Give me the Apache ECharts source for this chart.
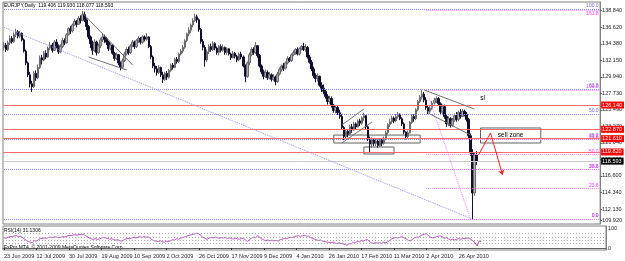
<!DOCTYPE html>
<html>
<head>
<meta charset="utf-8">
<script src="https://cdn.jsdelivr.net/npm/echarts@6/dist/echarts.min.js"></script>
<style>
html,body{margin:0;padding:0;background:#fff}
#chart_main{width:625px;height:261px}
</style>
</head>
<body>
<div id="chart_main"></div>
<script>
// EURJPY daily bars (open = previous close)
var firstOpen = 133.9;
var closes = [
    134.2,133.6,134.5,135.1,134.7,135.6,136.0,135.4,135.8,134.9,
    133.4,131.8,130.2,129.0,128.6,130.4,129.8,131.2,132.5,132.2,
    133.1,132.6,133.8,134.2,133.5,134.6,134.1,133.3,134.0,134.8,
    134.5,135.6,136.4,136.1,136.9,137.4,137.0,137.8,137.5,138.3,
    137.6,136.7,135.3,134.4,133.5,134.6,133.2,134.1,134.9,135.3,
    135.0,134.6,133.7,134.2,133.1,132.4,132.9,131.8,131.2,132.1,
    133.0,133.6,133.2,134.1,134.6,134.0,134.8,135.1,134.6,135.3,
    135.0,135.3,134.0,132.6,131.4,131.0,130.5,131.2,130.2,129.6,
    130.4,129.9,130.8,131.5,131.2,132.3,132.0,133.0,133.4,133.9,
    134.8,135.7,136.2,136.9,137.5,138.0,137.6,136.3,134.7,133.9,
    132.2,133.3,134.0,133.6,134.4,133.8,133.2,134.0,133.5,133.9,
    133.2,133.7,133.0,132.5,133.1,132.7,132.2,133.0,132.6,131.4,
    130.0,131.8,132.9,133.6,133.2,134.1,132.8,131.4,130.6,130.0,
    130.5,129.8,130.2,129.6,129.9,129.3,130.3,130.9,131.4,131.1,
    131.8,132.4,132.1,132.9,133.2,133.6,133.0,133.7,134.0,133.6,
    133.9,132.6,131.9,131.0,130.1,129.7,130.0,128.8,128.4,128.0,
    127.3,126.6,127.0,126.1,125.4,125.8,125.1,124.6,123.1,121.9,
    122.6,122.2,123.2,122.8,123.6,123.2,124.0,123.7,124.4,124.7,
    123.2,121.6,120.9,121.5,121.0,121.3,120.7,121.4,121.0,121.6,
    122.4,123.5,123.9,124.4,124.0,124.6,124.9,124.3,123.6,122.5,
    121.9,122.4,123.8,124.6,124.3,125.5,126.6,127.2,127.6,126.8,
    125.8,125.3,125.7,126.4,126.8,127.0,126.3,125.2,125.9,124.6,
    123.6,124.3,123.4,124.1,124.7,124.2,125.1,124.6,125.3,124.9,
    124.2,122.0,119.7,114.3,119.406,118.593
];
var highs = [
    134.6,134.5,134.8,135.5,135.4,135.9,136.4,136.2,136.1,135.9,
    135.1,133.6,132.0,130.6,129.4,130.7,130.8,131.6,132.8,132.9,
    133.4,133.5,134.0,134.6,134.5,134.9,135.0,134.3,134.3,135.2,
    135.1,135.8,136.6,136.8,137.1,137.7,137.6,138.1,138.2,138.8,
    138.7,137.8,136.9,135.5,134.8,135.0,134.8,134.4,135.2,135.8,
    135.6,135.3,134.8,134.5,134.3,133.3,133.2,133.0,132.0,132.4,
    133.3,133.9,134.0,134.3,134.9,134.8,135.0,135.4,135.3,135.5,
    135.5,135.8,135.4,134.2,132.8,131.8,131.4,131.5,131.3,130.6,
    130.6,130.7,131.0,131.7,131.8,132.5,132.6,133.2,133.7,134.2,
    135.0,135.9,136.6,137.1,137.8,138.4,138.3,137.8,136.5,135.0,
    134.2,133.6,134.3,134.4,134.7,134.6,134.0,134.2,134.3,134.3,
    134.0,133.9,133.8,133.2,133.4,133.3,132.9,133.2,133.3,132.8,
    131.6,132.0,133.2,133.9,133.9,134.6,134.2,133.0,131.6,130.9,
    130.9,130.8,130.6,130.4,130.3,130.1,130.6,131.2,131.6,131.8,
    132.0,132.7,132.6,133.1,133.5,133.8,133.9,133.9,134.2,134.5,
    134.3,134.1,132.9,132.2,131.3,130.4,130.4,130.1,129.2,128.9,
    128.2,127.6,127.4,127.3,126.3,126.1,126.0,125.5,124.9,123.3,
    122.9,122.9,123.5,123.6,123.9,123.8,124.2,124.3,124.6,125.1,
    124.8,123.4,121.9,121.8,121.7,121.6,121.5,121.6,121.6,121.9,
    122.7,123.7,124.3,124.7,124.6,124.9,125.2,125.0,124.5,123.8,
    122.6,122.7,124.0,124.9,124.9,125.7,126.8,127.5,128.2,127.9,
    127.2,126.0,126.0,126.7,127.1,127.3,127.2,126.5,126.2,126.2,
    124.9,124.6,124.5,124.4,125.0,125.2,125.4,125.6,125.6,125.5,
    125.2,124.4,122.3,120.2,119.7,119.930
];
var lows = [
    133.5,133.3,133.4,134.2,134.4,134.5,135.3,135.1,135.1,134.7,
    133.2,131.5,129.9,128.5,127.9,128.4,129.4,129.6,131.0,131.6,
    132.0,132.3,132.5,133.5,133.2,133.4,133.8,133.0,133.1,133.8,
    134.2,134.4,135.5,135.7,135.9,136.8,136.6,136.9,137.1,137.4,
    137.3,136.2,135.0,133.8,132.9,133.3,132.8,133.0,133.8,134.6,
    134.5,134.2,133.4,133.5,132.9,132.1,132.2,131.5,130.8,131.0,
    131.9,132.8,132.9,133.0,133.9,133.7,133.8,134.5,134.3,134.4,
    134.7,134.8,133.8,132.3,131.1,130.5,130.1,130.3,129.9,129.1,
    129.4,129.5,129.7,130.6,130.9,131.1,131.7,131.8,132.8,133.1,
    133.7,134.6,135.4,135.8,136.6,137.3,137.2,136.0,134.4,133.5,
    131.3,131.9,133.0,133.3,133.4,133.5,132.9,132.8,133.2,133.3,
    132.9,132.9,132.8,132.2,132.4,132.4,131.9,132.0,132.3,131.2,
    129.2,129.8,131.5,132.7,132.9,133.0,132.5,131.2,130.3,129.6,
    129.8,129.5,129.6,129.3,129.4,128.8,129.1,130.1,130.6,130.7,
    130.9,131.6,131.9,131.9,132.7,132.9,132.8,132.8,133.5,133.4,
    133.3,132.4,131.7,130.7,129.8,129.2,129.3,128.6,127.9,127.6,
    127.0,126.2,126.3,125.8,125.1,125.0,124.8,124.3,122.8,121.4,
    121.6,121.8,122.0,122.4,122.7,122.9,123.1,123.3,123.5,124.0,
    122.9,121.3,119.7,120.4,120.6,120.6,120.4,120.5,120.6,120.8,
    121.4,122.2,123.2,123.6,123.7,123.8,124.3,124.1,123.3,122.2,
    121.5,121.7,122.3,123.6,123.9,124.1,125.3,126.4,126.9,126.5,
    125.5,124.9,125.0,125.5,126.2,126.4,126.0,124.9,124.9,124.3,
    123.2,123.3,123.1,123.2,123.9,123.9,124.0,124.3,124.5,124.6,
    123.9,121.6,119.3,110.8,113.9,118.077
];
// RSI(14) line
var rsi = [
    52,48,54,58,56,60,62,57,59,53,
    45,38,32,28,26,36,34,42,48,47,
    50,48,53,55,52,56,54,51,54,57,
    55,60,63,62,65,67,64,68,66,70,
    62,57,50,46,42,48,42,46,50,52,
    50,48,44,47,42,39,42,37,35,40,
    45,48,46,51,53,50,54,56,53,57,
    54,56,48,41,36,34,32,36,31,29,
    34,32,37,41,40,46,44,50,52,55,
    59,63,65,68,71,74,70,62,53,49,
    43,49,53,51,55,52,48,52,50,52,
    48,51,47,45,49,46,44,49,47,40,
    33,43,50,55,52,62,53,45,40,37,
    40,37,39,36,38,35,41,44,48,46,
    50,54,52,57,59,62,57,61,63,59,
    60,52,48,44,40,38,40,34,32,30,
    28,26,29,25,22,26,23,21,17,14,
    22,20,29,27,33,31,37,35,40,42,
    33,25,22,27,24,27,23,29,26,31,
    38,46,49,53,50,54,56,51,46,39,
    36,40,50,55,53,60,66,69,71,64,
    54,51,53,57,59,60,55,48,52,45,
    40,44,40,44,47,44,49,46,50,48,
    43,34,26,10,35,31.1306
];
var rsiLevels = [75, 55, 40, 25];

var dateLabels = ['23 Jun 2009','12 Jul 2009','30 Jul 2009','19 Aug 2009','10 Sep 2009','2 Oct 2009',
    '26 Oct 2009','17 Nov 2009','9 Dec 2009','4 Jan 2010','26 Jan 2010','17 Feb 2010',
    '11 Mar 2010','2 Apr 2010','26 Apr 2010'];
var dateStep = 16;

var yTickLabels = ['138.840','136.620','134.380','132.150','129.940','127.730','125.490',
    '123.270','121.040','118.820','116.600','114.340','112.130','109.920'];

// horizontal levels
var redLevels = [126.14, 122.87, 121.61, 119.82];
var bidPrice = 118.593;
var blueFibPrices = [139.06, 128.29, 124.93, 121.57, 117.46, 110.80];
var blueFibLabels = ['100.0','61.8','50.0','38.2','23.6','0.0'];
var pinkFibPrices = [138.88, 128.16, 121.53, 119.48, 117.44, 114.89, 110.80];
var pinkFibLabels = ['161.8','100.0','61.8','50.0','38.2','23.6','0.0'];
var pinkFibStart = 210;

// drawn objects: [barIndex, price] pairs
var blueTrend = [[0, 136.6], [233, 110.8]];
var grayTrends = [
    [[38.9, 138.52], [63.5, 131.52]],
    [[42.4, 132.60], [60.6, 130.85]],
    [[168, 123.45], [179.3, 125.60]],
    [[168, 121.03], [182.8, 123.85]],
    [[208.9, 128.16], [233.5, 125.60]],
    [[211.3, 125.06], [232, 122.10]]
];
var pinkDiagonal = [[209.9, 128.16], [231.5, 110.80]];
var boxes = [
    [[164, 122.10], [207.4, 121.03]],
    [[178.8, 120.49], [193.6, 119.55]]
];
var sellZone = [[237, 123.05], [266.5, 121.03]];
var arrowPath = [[236, 119.41], [241.9, 122.37], [248.3, 116.72]];
var slMark = [238.4, 127.08];

var FONT = 'Liberation Sans';
var FS = 5.5;
var FS_TXT = 5;
var SLOTS = 297;
var yMin = 110.13, yMax = 140.0;
var BLUE = '#8c8cec', BLUE_TXT = '#6a6ad8';
var PINK = '#ff80ff', PINK_TXT = '#ff33ff';

var myChart = echarts.init(document.getElementById('chart_main'), null, {renderer: 'canvas'});

var categories = [];
for (var i = 0; i < SLOTS; i++) categories.push(String(i));

var candles = closes.map(function (c, i) {
    var o = i === 0 ? firstOpen : closes[i - 1];
    return [o, c, lows[i], highs[i]];
});

var yTickAt = yTickLabels.map(function (s) {
    return Math.max(parseFloat(s), yMin + 0.5);   // MT4 keeps the last label inside the window
});

function isDateTick(idx) {
    return idx % dateStep === 0 && idx / dateStep < dateLabels.length;
}

var lines = [];
blueFibPrices.forEach(function (p, k) {
    lines.push([
        {coord: [0, p],
         lineStyle: {color: BLUE, type: 'dotted', width: 1},
         label: {show: true, position: 'insideEndTop', distance: 0.5, formatter: blueFibLabels[k],
             color: BLUE_TXT, fontSize: FS_TXT, fontFamily: FONT}},
        {coord: [SLOTS - 1, p]}
    ]);
});
pinkFibPrices.forEach(function (p, k) {
    lines.push([
        {coord: [pinkFibStart, p],
         lineStyle: {color: PINK, type: 'dotted', width: 1},
         label: {show: true, position: k === 0 ? 'insideEndBottom' : 'insideEndTop', distance: 0.5,
             formatter: pinkFibLabels[k], color: PINK_TXT, fontSize: FS_TXT, fontFamily: FONT}},
        {coord: [SLOTS - 1, p]}
    ]);
});
redLevels.forEach(function (p) {
    lines.push({
        yAxis: p,
        lineStyle: {color: '#ff6a6a', type: 'solid', width: 1},
        label: {show: true, position: 'end', distance: 1, formatter: p.toFixed(3),
            color: '#fff', backgroundColor: '#ff0000', padding: [1, 2, 0, 1],
            fontSize: FS, fontFamily: FONT}
    });
});
lines.push({
    yAxis: bidPrice,
    lineStyle: {color: '#c8c8c8', type: 'solid', width: 1},
    label: {show: true, position: 'end', distance: 1, formatter: bidPrice.toFixed(3),
        color: '#fff', backgroundColor: '#000', padding: [1, 2, 0, 1],
        fontSize: FS, fontFamily: FONT}
});
lines.push([
    {coord: blueTrend[0], lineStyle: {color: BLUE, type: 'dotted', width: 1}, label: {show: false}},
    {coord: blueTrend[1]}
]);
lines.push([
    {coord: pinkDiagonal[0], lineStyle: {color: PINK, type: 'dotted', width: 1}, label: {show: false}},
    {coord: pinkDiagonal[1]}
]);
grayTrends.forEach(function (t) {
    lines.push([
        {coord: t[0], lineStyle: {color: '#707070', type: 'solid', width: 1}, label: {show: false}},
        {coord: t[1]}
    ]);
});
for (var k = 0; k < arrowPath.length - 1; k++) {
    lines.push([
        {coord: arrowPath[k], lineStyle: {color: '#ff2020', type: 'solid', width: 1}, label: {show: false},
         symbol: 'none'},
        {coord: arrowPath[k + 1], symbol: k === arrowPath.length - 2 ? 'arrow' : 'none', symbolSize: 5}
    ]);
}

var areas = boxes.map(function (b) {
    return [
        {coord: b[0], itemStyle: {color: 'rgba(0,0,0,0)', borderColor: '#606060', borderWidth: 1},
         label: {show: false}},
        {coord: b[1]}
    ];
});
areas.push([
    {coord: sellZone[0], name: 'sell zone',
     itemStyle: {color: 'rgba(0,0,0,0)', borderColor: '#606060', borderWidth: 1},
     label: {show: true, position: 'inside', color: '#000', fontSize: 6.5, fontFamily: FONT}},
    {coord: sellZone[1]}
]);

var option = {
    animation: false,
    backgroundColor: '#fff',
    textStyle: {fontFamily: FONT},
    grid: [
        {left: 3, top: 2, width: 603, height: 222, show: true, borderColor: '#808080', borderWidth: 1},
        {left: 3, top: 226, width: 603, height: 24, show: true, borderColor: '#808080', borderWidth: 1}
    ],
    xAxis: [
        {type: 'category', gridIndex: 0, data: categories, boundaryGap: true,
         axisLine: {show: false}, axisTick: {show: false}, axisLabel: {show: false}, splitLine: {show: false}},
        {type: 'category', gridIndex: 1, data: categories, boundaryGap: true,
         axisLine: {show: true, lineStyle: {color: '#606060'}},
         axisTick: {show: true, alignWithLabel: true, interval: isDateTick, length: 2,
             lineStyle: {color: '#303030'}},
         axisLabel: {show: true, interval: isDateTick, align: 'left', margin: 3,
             fontSize: FS, fontFamily: FONT, color: '#202020',
             formatter: function (v, idx) { return dateLabels[idx / dateStep] || ''; }},
         splitLine: {show: false}}
    ],
    yAxis: [
        {type: 'value', gridIndex: 0, position: 'right', min: yMin, max: yMax, scale: true,
         axisLine: {show: true, lineStyle: {color: '#808080'}},
         axisTick: {show: true, length: 2, customValues: yTickAt, lineStyle: {color: '#606060'}},
         axisLabel: {show: true, margin: 2, fontSize: FS, fontFamily: FONT, color: '#202020',
             customValues: yTickAt,
             formatter: function (v) {
                 var k = yTickAt.indexOf(v);
                 return k >= 0 ? yTickLabels[k] : '';
             }},
         splitLine: {show: false}},
        {type: 'value', gridIndex: 1, position: 'right', min: -10, max: 110,
         axisLine: {show: true, lineStyle: {color: '#808080'}},
         axisTick: {show: false},
         axisLabel: {show: true, margin: 2, fontSize: FS, fontFamily: FONT, color: '#202020',
             customValues: [100, 0]},
         splitLine: {show: false}}
    ],
    series: [
        {
            name: 'EURJPY',
            type: 'candlestick',
            xAxisIndex: 0, yAxisIndex: 0,
            data: candles,
            barWidth: 2,
            itemStyle: {
                color: '#b0b0b0', borderColor: '#6a6a6a',
                color0: '#10102e', borderColor0: '#10102e', borderWidth: 1
            },
            markLine: {silent: true, symbol: ['none', 'none'], data: lines},
            markArea: {silent: true, data: areas},
            markPoint: {
                silent: true,
                data: [{coord: slMark, symbol: 'circle', symbolSize: 0,
                    label: {show: true, position: 'inside', formatter: 'sl', color: '#000',
                        fontSize: 6.5, fontFamily: FONT}}]
            }
        },
        {
            name: 'RSI(14)',
            type: 'line',
            xAxisIndex: 1, yAxisIndex: 1,
            data: rsi,
            showSymbol: false,
            lineStyle: {color: '#c050c8', width: 1},
            markLine: {
                silent: true, symbol: ['none', 'none'], label: {show: false},
                lineStyle: {color: '#a8a8a8', type: [1, 2], width: 1},
                data: rsiLevels.map(function (v) { return {yAxis: v}; })
            }
        }
    ],
    graphic: [
        {type: 'text', left: 4, top: 3,
         style: {text: 'EURJPY,Daily  119.406 119.930 118.077 118.593', fontSize: FS_TXT, fontFamily: FONT, fill: '#000'}},
        {type: 'text', left: 4, top: 228,
         style: {text: 'RSI(14) 31.1306', fontSize: FS_TXT, fontFamily: FONT, fill: '#000'}},
        {type: 'text', left: 4, top: 245,
         style: {text: 'FxPro MT4, \u00a9 2001-2009 MetaQuotes Software Corp.', fontSize: FS_TXT, fontFamily: FONT, fill: '#000'}}
    ]
};

if (option && typeof option == "object") {
    myChart.setOption(option);
}
</script>
</body>
</html>
